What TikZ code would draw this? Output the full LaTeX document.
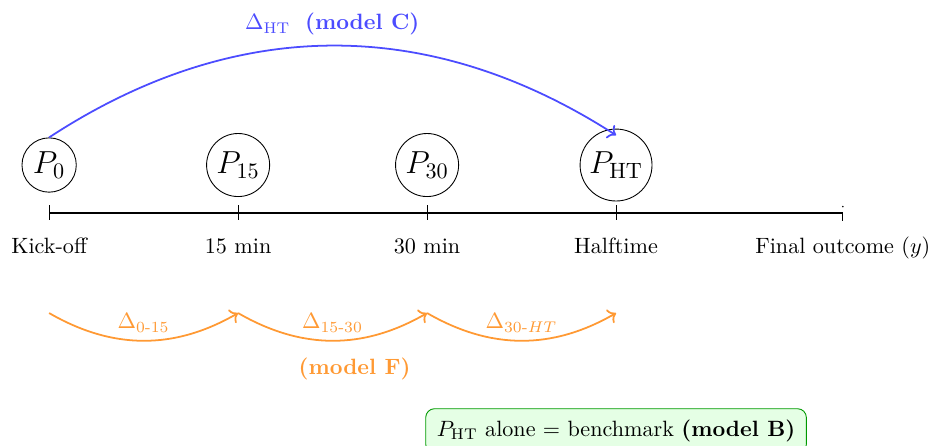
\documentclass[tikz,border=0pt]{standalone}
\usepackage{amsmath}
\usepackage{amssymb}
\usepackage{tikz}
\usetikzlibrary{
    arrows.meta,
    calc
}

\colorlet{deltablue}{blue!70}
\colorlet{deltaorange}{orange!80}

\begin{document}
\begin{tikzpicture}[
    probnode/.style={draw, circle, inner sep=2pt, font=\Large},
    timelabel/.style={anchor=base},
    hopline/.style={->, thick, deltaorange}
]

\useasboundingbox (-0.78,-3.70) rectangle (14.0,3.38);

% Timeline
\draw[thick] (0,0) -- (12.6,0);
\foreach \x in {0,3,6,9}
  \draw (\x,0.12) -- (\x,-0.12);
\draw (12.6,0) -- (12.6,-0.13);
\fill (12.6,0.1) circle (0.4pt);

% Time labels
\node[timelabel] (lkick) at (0,-0.64) {Kick-off};
\node[timelabel] (l15) at (3,-0.64) {15 min};
\node[timelabel] (l30) at (6,-0.64) {30 min};
\node[timelabel] (lht) at (9,-0.64) {Halftime};
\node[timelabel] (lfin) at (12.6,-0.64) {Final outcome ($y$)};

% Probabilities
\node[probnode] (p0) at (0,0.76) {$P_0$};
\node[probnode] (p15) at (3,0.76) {$P_{15}$};
\node[probnode] (p30) at (6,0.76) {$P_{30}$};
\node[probnode] (pht) at (9,0.76) {$P_{\mathrm{HT}}$};

% Direct jump (model C)
\draw[->, thick, deltablue] (p0.north) to[bend left=33]
  node[midway, above=1pt] (dht)
  {$\Delta_{\mathrm{HT}}$~~\textbf{(model C)}}
  ([yshift=-3pt]pht.north);

% Step changes (model F)
\coordinate (s0) at (0,-1.59);
\coordinate (s15) at (3,-1.59);
\coordinate (s30) at (6,-1.59);
\coordinate (sht) at (9,-1.59);

\draw[hopline] (s0) to[bend right=30]
  node[midway, above] (d1) {$\Delta_{\text{0-15}}$} (s15);
\draw[hopline] (s15) to[bend right=30]
  node[midway, above] (d2) {$\Delta_{\text{15-30}}$} (s30);
\draw[hopline] (s30) to[bend right=30]
  node[midway, above] (d3) {$\Delta_{\text{30-}HT}$} (sht);

\node[deltaorange] (mf) at (4.85,-2.48) {\textbf{(model F)}};

% Benchmark
\node[draw=green!60!black, fill=green!10, rounded corners, inner sep=5pt]
  (bench) at (9,-3.46)
  {$P_{\mathrm{HT}}$ alone = benchmark \textbf{(model B)}};

\end{tikzpicture}
\end{document}
